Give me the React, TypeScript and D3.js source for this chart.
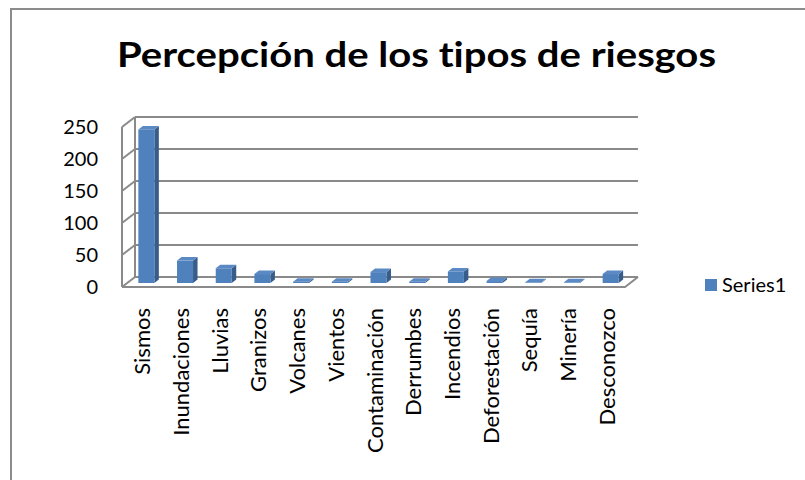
import React from 'react'
import * as d3 from 'd3'

const title = 'Percepción de los tipos de riesgos'
const categories = ['Sismos', 'Inundaciones', 'Lluvias', 'Granizos', 'Volcanes', 'Vientos', 'Contaminación', 'Derrumbes', 'Incendios', 'Deforestación', 'Sequía', 'Minería', 'Desconozco']
const values = [240, 35, 23, 14, 2, 2, 17, 2, 18, 3, 1, 1, 14]
const yTicks = [0, 50, 100, 150, 200, 250]
const seriesName = 'Series1'

const W = 805
const H = 480
// 3d box: front floor edge, and depth offset to the back wall
const left = 122
const right = 625
const floorY = 287
const depthX = 13
const depthY = -10
const grid = '#8a8a8a'

export default function App() {
  const x = d3.scaleBand().domain(categories).range([left, right])
  const yBack = d3.scaleLinear().domain([0, 250]).range([floorY + depthY, 117])
  const hScale = d3.scaleLinear().domain([0, 250]).range([0, floorY + depthY - 117])
  const bw = x.bandwidth()

  // bars sit a bit into the depth
  const barOffX = 5
  const barOffY = -4
  const barW = 16
  const bdx = 4.5
  const bdy = -3.5

  const bl = left + depthX
  const br = right + depthX

  return (
    <svg width={W} height={H} style={{ position: 'absolute', left: 0, top: 0, background: '#fff', fontVariantLigatures: 'none' }}
      fontFamily="Lato, 'Open Sans', sans-serif">
      <rect x={11} y={9} width={820} height={500} fill="#fff" stroke="#8c8c8c" strokeWidth={2} />

      <text x={117} y={67} fontSize={35} fontWeight="bold" fill="#000"
        textLength={599} lengthAdjust="spacingAndGlyphs">{title}</text>

      {/* side wall and gridlines */}
      {yTicks.map(t => {
        const yb = yBack(t)
        return (
          <g key={t}>
            <line x1={left} y1={yb - depthY} x2={bl} y2={yb} stroke={grid} strokeWidth={2} />
            <line x1={bl} y1={yb} x2={br} y2={yb} stroke={grid} strokeWidth={2} />
            <text x={98} y={yb - depthY + 7} textAnchor="end" fontSize={20} fill="#000">{t}</text>
          </g>
        )
      })}
      <line x1={left} y1={floorY} x2={left} y2={yBack(250) - depthY} stroke={grid} strokeWidth={2} />
      <line x1={bl} y1={yBack(0)} x2={bl} y2={yBack(250)} stroke={grid} strokeWidth={2} />
      <polyline points={`${left},${floorY} ${right},${floorY} ${br},${floorY + depthY}`} fill="none" stroke={grid} strokeWidth={2} />

      {/* bars */}
      {categories.map((c, i) => {
        const cx = (x(c) as number) + bw / 2 + barOffX
        const x0 = cx - barW / 2
        const yb = floorY + barOffY
        const h = Math.max(hScale(values[i]), 0.5)
        const yt = yb - h
        return (
          <g key={c}>
            <polygon points={`${x0 + barW},${yb} ${x0 + barW + bdx},${yb + bdy} ${x0 + barW + bdx},${yt + bdy} ${x0 + barW},${yt}`} fill="#385d8a" />
            <polygon points={`${x0},${yt} ${x0 + bdx},${yt + bdy} ${x0 + barW + bdx},${yt + bdy} ${x0 + barW},${yt}`} fill="#5a89c4" />
            <rect x={x0} y={yt} width={barW} height={h} fill="#4f81bd" />
          </g>
        )
      })}

      {/* category labels */}
      {categories.map(c => {
        const lx = (x(c) as number) + bw / 2 + 9
        return (
          <text key={c} transform={`translate(${lx},308) rotate(-90)`} textAnchor="end" fontSize={22} fill="#000">{c}</text>
        )
      })}

      {/* legend */}
      <rect x={705} y={279} width={12} height={12} fill="#4f81bd" />
      <text x={722} y={292} fontSize={20} fill="#000">{seriesName}</text>
    </svg>
  )
}
